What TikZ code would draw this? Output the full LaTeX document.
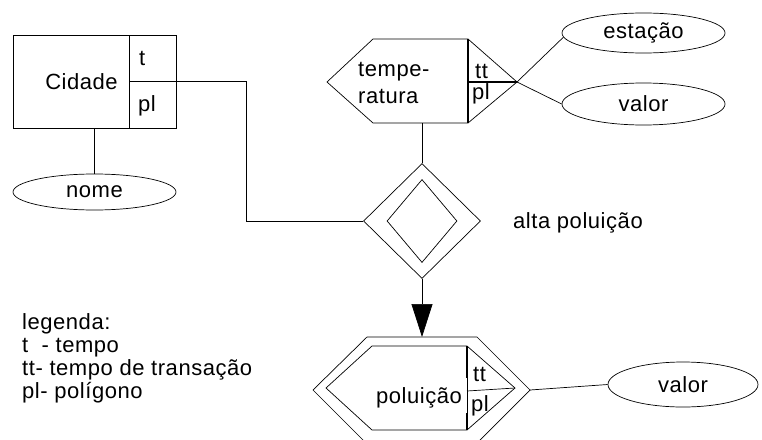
\documentclass[tikz,border=0pt]{standalone}
\usepackage{fontspec}
\setmainfont{Liberation Sans}[LetterSpace=2.5]
\usetikzlibrary{shapes.geometric, arrows.meta}

\begin{document}
\begin{tikzpicture}[x=1pt, y=-1pt,
  every node/.style={font=\fontsize{22}{23}\selectfont, inner sep=0pt},
  edge/.style={line width=0.7pt},
  bold/.style={line width=1.8pt},
  attr/.style={ellipse, draw, line width=0.7pt, minimum width=#1, minimum height=40pt},
  lbl/.style={anchor=base west},
]
\clip (0,0) rectangle (762,439);

% ---- entity Cidade ----
\node[draw, edge, minimum width=163pt, minimum height=93pt] (cidade) at (94.5,81.5) {};
\node (cidade-txt) at (81.5,81.5) {Cidade};
\coordinate (cid-div-top) at (129,35);
\coordinate (cid-div-bot) at (129,128);
\coordinate (cid-div-mid) at (129,81.5);
\draw[edge] (cid-div-top) -- (cid-div-bot);
\draw[bold] (cid-div-mid) -- (cidade.east);
\node[lbl] (cid-t) at (139,65) {t};
\node[lbl] (cid-pl) at (138,111) {pl};

\node[attr=163pt, minimum height=36pt] (nome) at (94.5,192) {nome};
\draw[edge] (cidade.south) -- (nome.north);

% ---- temporal entity temperatura ----
\coordinate (tp-l)  at (327,82);
\coordinate (tp-tl) at (373,39);
\coordinate (tp-tr) at (468,39);
\coordinate (tp-r)  at (517,82);
\coordinate (tp-br) at (468,123);
\coordinate (tp-bl) at (373,123);
\coordinate (tp-m)  at (468,82);
\coordinate (tp-s)  at (422,123);
\draw[edge] (tp-l) -- (tp-tl) -- (tp-tr) -- (tp-r) -- (tp-br) -- (tp-bl) -- cycle;
\draw[bold] (tp-tr) -- (tp-br);
\draw[bold] (tp-m) -- (tp-r);
\node[lbl] (tp-txt1) at (358,76) {tempe-};
\node[lbl] (tp-txt2) at (358,103) {ratura};
\node[lbl] (tp-tt) at (475,78) {tt};
\node[lbl] (tp-pl) at (472,99) {pl};

\node[attr=163pt] (est) at (643.5,33) {estação};
\node[attr=163pt, minimum height=42pt] (val1) at (643.5,104) {valor};
\draw[edge] (tp-r) -- (est.183);
\draw[edge] (tp-r) -- (val1.west);

% ---- relationship alta poluição ----
\node[diamond, draw, edge, minimum width=117pt, minimum height=115pt] (rel) at (422,221) {};
\node[diamond, draw, edge, minimum width=70pt, minimum height=83pt] (rel-in) at (422,221) {};
\node[lbl] (rel-name) at (513,228) {alta poluição};

\coordinate (cid-bend) at (246,81.5);
\draw[edge] (cidade.east) -- (cid-bend) |- (rel.west);
\draw[edge] (tp-s) -- (rel.north);

% ---- weak temporal entity poluição ----
\coordinate (po-l)  at (313,390);
\coordinate (po-tl) at (367,337);
\coordinate (po-tr) at (477,337);
\coordinate (po-r)  at (530,390);
\coordinate (po-br) at (477,443);
\coordinate (po-bl) at (366,443);
\coordinate (po-n)  at (422,337);
\draw[edge] (po-l) -- (po-tl) -- (po-tr) -- (po-r) -- (po-br) -- (po-bl) -- cycle;

\coordinate (pi-l)  at (326,388);
\coordinate (pi-tl) at (372,346);
\coordinate (pi-tr) at (467,346);
\coordinate (pi-r)  at (515,388);
\coordinate (pi-br) at (467,430);
\coordinate (pi-bl) at (372,430);
\coordinate (pi-m)  at (467,391);
\coordinate (pi-cut1) at (467,378);
\coordinate (pi-cut2) at (467,413);
\draw[edge] (pi-l) -- (pi-tl) -- (pi-tr) -- (pi-r) -- (pi-br) -- (pi-bl) -- cycle;
\draw[edge] (pi-tr) -- (pi-br);
\draw[bold] (pi-tr) -- (pi-cut1);
\draw[bold] (pi-cut2) -- (pi-br);
\draw[edge] (pi-m) -- (pi-r);
\node[lbl] (po-txt) at (376,403) {poluição};
\node[lbl] (po-tt) at (473,381) {tt};
\node[lbl] (po-pl) at (471,411) {pl};

\draw[edge, -{Triangle[width=21pt, length=33pt]}] (rel.south) -- (po-n);

\node[attr=150pt, minimum height=45pt] (val2) at (683,384.5) {valor};
\draw[edge] (po-r) -- (val2.west);

% ---- legend ----
\node[anchor=north west, align=left] (legend) at (22,313)
  {legenda:\\t\ \ - tempo\\tt- tempo de transação\\pl- polígono};
\end{tikzpicture}
\end{document}
